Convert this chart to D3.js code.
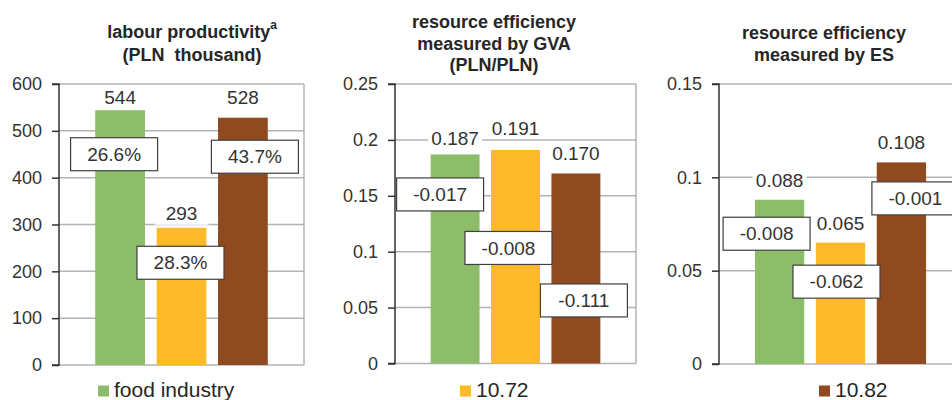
<!DOCTYPE html>
<html>
<head>
<meta charset="utf-8">
<script src="https://cdn.jsdelivr.net/npm/d3@7"></script>
<style>
  body { margin: 0; background: #fff; }
  svg { display: block; font-family: "Liberation Sans", Arial, sans-serif; }
</style>
</head>
<body>
<svg id="chart" width="952" height="400"></svg>
<script>
// data
var categories = ["food industry", "10.72", "10.82"];
var colours = ["#8dbd68", "#fcba2b", "#8f4a20"];

var productivity = [544, 293, 528];
var productivityChange = [26.6, 28.3, 43.7];
var productivityTicks = [0, 100, 200, 300, 400, 500, 600];

var gvaEfficiency = [0.187, 0.191, 0.170];
var gvaChange = [-0.017, -0.008, -0.111];
var gvaTicks = [0, 0.05, 0.1, 0.15, 0.2, 0.25];

var esEfficiency = [0.088, 0.065, 0.108];
var esChange = [-0.008, -0.062, -0.001];
var esTicks = [0, 0.05, 0.1, 0.15];

// layout of the three small charts
var panels = [
  {
    title: ["labour productivity", "(PLN\u00a0 thousand)"], sup: "a",
    titleX: 192, titleY: [32, 55],
    left: 59, right: 304, top: 84, bottom: 365,
    values: productivity, changes: productivityChange, ticks: productivityTicks,
    fmtValue: function (d) { return String(d); },
    fmtChange: function (d) { return d.toFixed(1) + "%"; },
    lift: [13, 14, 20],
    boxShift: [[-6, 44], [-1, 35], [12, 39]],
    legend: 0, legendX: 98
  },
  {
    title: ["resource efficiency", "measured by GVA", "(PLN/PLN)"],
    titleX: 494, titleY: [22, 43.5, 65],
    left: 395, right: 636, top: 84, bottom: 363.5,
    values: gvaEfficiency, changes: gvaChange, ticks: gvaTicks,
    fmtValue: function (d) { return d.toFixed(3); },
    fmtChange: function (d) { return d.toFixed(3); },
    lift: [16, 22, 20],
    boxShift: [[-15, 40], [-7, 98], [8, 127]],
    legend: 1, legendX: 460
  },
  {
    title: ["resource efficiency", "measured by ES"],
    titleX: 824, titleY: [33, 55],
    left: 719, right: 962, top: 84, bottom: 364,
    values: esEfficiency, changes: esChange, ticks: esTicks,
    fmtValue: function (d) { return d.toFixed(3); },
    fmtChange: function (d) { return d.toFixed(3); },
    lift: [19, 19, 20],
    boxShift: [[-13, 34], [-4, 39], [14, 36]],
    legend: 2, legendX: 819
  }
];

var svg = d3.select("#chart");
var textColour = "#333";
var gridColour = "#b3b3b3";

panels.forEach(function (p) {
  var g = svg.append("g");

  var x = d3.scaleBand()
    .domain(categories)
    .range([p.left, p.right])
    .paddingInner(0.19)
    .paddingOuter(0.59);

  var y = d3.scaleLinear()
    .domain([0, d3.max(p.ticks)])
    .range([p.bottom, p.top]);

  // gridlines
  g.append("g")
    .selectAll("line")
    .data(p.ticks)
    .enter()
    .append("line")
    .attr("x1", p.left)
    .attr("x2", p.right)
    .attr("y1", function (d) { return y(d); })
    .attr("y2", function (d) { return y(d); })
    .attr("stroke", gridColour)
    .attr("stroke-width", 1.5);

  // right border of the plot area
  g.append("line")
    .attr("x1", p.right).attr("x2", p.right)
    .attr("y1", p.top).attr("y2", p.bottom)
    .attr("stroke", gridColour)
    .attr("stroke-width", 1.5);

  // bars
  g.append("g")
    .selectAll("rect")
    .data(p.values)
    .enter()
    .append("rect")
    .attr("x", function (d, i) { return x(categories[i]); })
    .attr("width", x.bandwidth())
    .attr("y", function (d) { return y(d); })
    .attr("height", function (d) { return y(0) - y(d); })
    .attr("fill", function (d, i) { return colours[i]; });

  // y axis
  var axis = g.append("g")
    .attr("transform", "translate(" + p.left + ",0)")
    .call(d3.axisLeft(y).tickValues(p.ticks).tickSize(7).tickPadding(10)
      .tickFormat(function (d) { return String(d); }));
  axis.select(".domain").attr("stroke", "#333").attr("stroke-width", 1.5)
    .attr("d", "M-7," + y(d3.max(p.ticks)) + "H0V" + y(0) + "H-7");
  axis.selectAll(".tick line").attr("stroke", "#333").attr("stroke-width", 1.5);
  axis.selectAll(".tick text")
    .attr("fill", textColour)
    .style("font-size", "18px")
    .style("font-family", "'Liberation Sans', Arial, sans-serif");

  // value labels with a white backing
  var labels = g.append("g")
    .selectAll("g")
    .data(p.values)
    .enter()
    .append("g")
    .attr("transform", function (d, i) {
      return "translate(" + (x(categories[i]) + x.bandwidth() / 2) + "," + (y(d) - p.lift[i]) + ")";
    });
  labels.append("rect")
    .attr("x", -27).attr("y", -11)
    .attr("width", 54).attr("height", 22)
    .attr("fill", "#fff");
  labels.append("text")
    .attr("text-anchor", "middle")
    .attr("dy", "0.35em")
    .style("font-size", "19px")
    .attr("fill", textColour)
    .text(function (d) { return p.fmtValue(d); });

  // change boxes
  var boxes = g.append("g")
    .selectAll("g")
    .data(p.changes)
    .enter()
    .append("g")
    .attr("transform", function (d, i) {
      var cx = x(categories[i]) + x.bandwidth() / 2 + p.boxShift[i][0];
      var cy = y(p.values[i]) + p.boxShift[i][1];
      return "translate(" + cx + "," + cy + ")";
    });
  boxes.append("rect")
    .attr("x", -43.5).attr("y", -16.5)
    .attr("width", 87).attr("height", 33)
    .attr("fill", "#fff")
    .attr("stroke", "#404040")
    .attr("stroke-width", 1.2);
  boxes.append("text")
    .attr("text-anchor", "middle")
    .attr("dy", "0.35em")
    .style("font-size", "19px")
    .attr("fill", textColour)
    .text(function (d) { return p.fmtChange(d); });

  // title
  var title = g.append("text")
    .attr("text-anchor", "middle")
    .style("font-size", "18px")
    .style("font-weight", "bold")
    .attr("fill", "#262626");
  p.title.forEach(function (line, i) {
    title.append("tspan")
      .attr("x", p.titleX)
      .attr("y", p.titleY[i])
      .attr("dy", "0.35em")
      .text(line);
    if (i === 0 && p.sup) {
      title.append("tspan")
        .attr("dy", "-0.75em")
        .style("font-size", "12px")
        .text(p.sup);
    }
  });

  // legend (one entry visible per panel)
  var leg = g.append("g")
    .attr("transform", "translate(" + p.legendX + ",385.5)");
  leg.append("rect")
    .attr("width", 11).attr("height", 11)
    .attr("fill", colours[p.legend]);
  leg.append("text")
    .attr("x", 16)
    .attr("y", 11.5)
    .style("font-size", "21px")
    .attr("fill", "#262626")
    .text(categories[p.legend]);
});
</script>
</body>
</html>
